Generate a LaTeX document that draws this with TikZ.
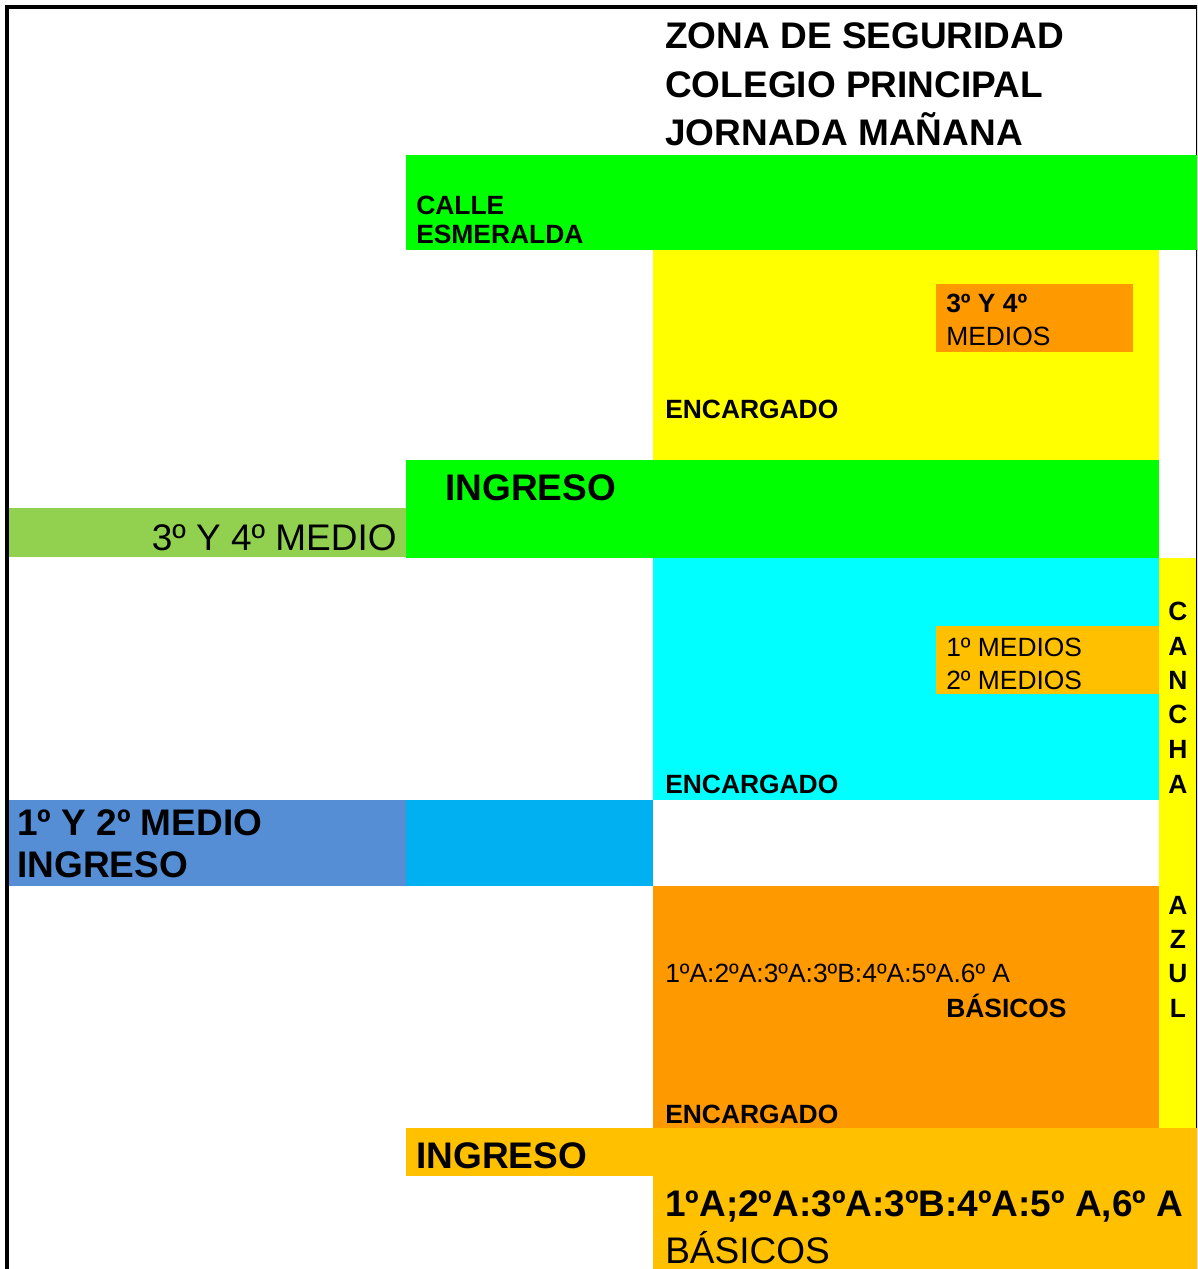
\documentclass[tikz,border=0pt]{standalone}
\usepackage{fontspec}
\setmainfont{Liberation Sans}
\definecolor{cgreen}{HTML}{00FF00}
\definecolor{cyellow}{HTML}{FFFF00}
\definecolor{ccyan}{HTML}{00FFFF}
\definecolor{corange}{HTML}{FF9900}
\definecolor{cgold}{HTML}{FFC000}
\definecolor{clgreen}{HTML}{92D050}
\definecolor{cblue}{HTML}{558ED5}
\definecolor{clblue}{HTML}{00B0F0}
\begin{document}
\begin{tikzpicture}[x=0.75pt,y=-0.75pt,
  txt/.style={inner sep=0pt, anchor=base west},
  big/.style={font=\fontsize{27.75pt}{33pt}\selectfont},
  bigb/.style={font=\fontsize{27.75pt}{33pt}\selectfont\bfseries},
  sm/.style={font=\fontsize{19.8pt}{24pt}\selectfont},
  smb/.style={font=\fontsize{19.8pt}{24pt}\selectfont\bfseries},
  letter/.style={inner sep=0pt, anchor=base, font=\fontsize{19.8pt}{24pt}\selectfont\bfseries}]
\useasboundingbox (0,0) rectangle (1197,1269);
\clip (0,0) rectangle (1197,1269);
% frame
\draw[line width=3pt] (7,7) rectangle (1198,1300);
% zones
\fill[cgreen] (406,155) rectangle (1197,250);
\fill[cyellow] (653,250) rectangle (1159,460);
\fill[corange] (936,284) rectangle (1133,352);
\fill[cgreen] (406,460) rectangle (1159,558);
\fill[clgreen] (9,508) rectangle (406,557);
\fill[ccyan] (653,558) rectangle (1159,800);
\fill[cgold] (936,626) rectangle (1159,694);
\fill[cyellow] (1159,558) rectangle (1196,1128);
\fill[cblue] (9,800) rectangle (406,886);
\fill[clblue] (406,800) rectangle (653,886);
\fill[corange] (653,886) rectangle (1159,1128);
\fill[cgold] (406,1128) rectangle (1197,1176);
\fill[cgold] (653,1176) rectangle (1197,1269);
% title
\node[txt,bigb] (t1) at (665,49) {ZONA DE SEGURIDAD};
\node[txt,bigb] (t2) at (665,97.5) {COLEGIO PRINCIPAL};
\node[txt,bigb] (t3) at (665,146) {JORNADA MAÑANA};
% street
\node[txt,smb] (c1) at (416,214.5) {CALLE};
\node[txt,smb] (c2) at (416,244) {ESMERALDA};
% 3 y 4 medios zone
\node[txt,smb] (m34a) at (946,312) {3º Y 4º};
\node[txt,sm] (m34b) at (946,345) {MEDIOS};
\node[txt,smb] (enc1) at (665,418) {ENCARGADO};
\node[txt,bigb] (ing1) at (445,500) {INGRESO};
\node[inner sep=0pt, anchor=base east, big] (m34c) at (397,550) {3º Y 4º MEDIO};
% 1 y 2 medios zone
\node[txt,sm] (m12a) at (946,656) {1º MEDIOS};
\node[txt,sm] (m12b) at (946,689) {2º MEDIOS};
\node[txt,smb] (enc2) at (665,793) {ENCARGADO};
\node[txt,bigb] (m12c) at (17,835) {1º Y 2º MEDIO};
\node[txt,bigb] (m12d) at (17,877) {INGRESO};
% basicos zone
\node[txt,sm] (b1) at (665,982) {1ºA:2ºA:3ºA:3ºB:4ºA:5ºA.6º A};
\node[txt,smb] (b2) at (946,1017) {BÁSICOS};
\node[txt,smb] (enc3) at (665,1123) {ENCARGADO};
\node[txt,bigb] (ing3) at (416,1168) {INGRESO};
\node[txt,bigb] (b3) at (665,1216) {1ºA;2ºA:3ºA:3ºB:4ºA:5º A,6º A};
\node[txt,big] (b4) at (665,1263) {BÁSICOS};
% cancha azul
\node[letter] (l1) at (1178,620) {C};
\node[letter] (l2) at (1178,655) {A};
\node[letter] (l3) at (1178,689) {N};
\node[letter] (l4) at (1178,723) {C};
\node[letter] (l5) at (1178,758) {H};
\node[letter] (l6) at (1178,793) {A};
\node[letter] (l7) at (1178,914) {A};
\node[letter] (l8) at (1178,948) {Z};
\node[letter] (l9) at (1178,982) {U};
\node[letter] (l10) at (1178,1017) {L};
\end{tikzpicture}
\end{document}
